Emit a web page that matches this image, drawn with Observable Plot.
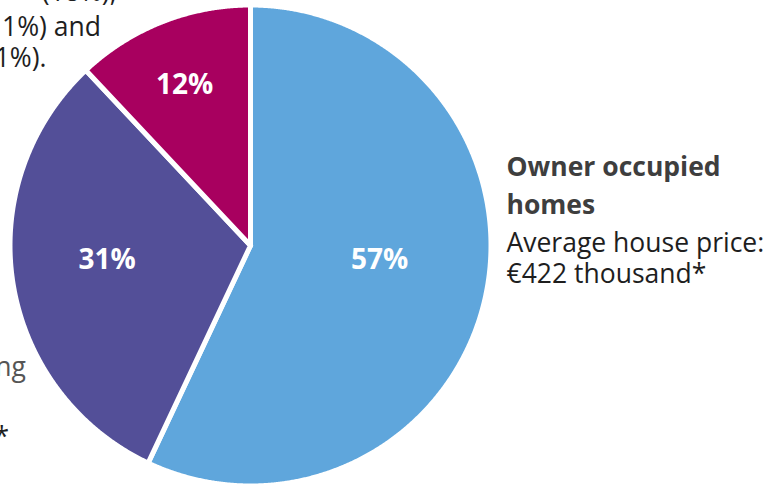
<!DOCTYPE html>
<html><head><meta charset="utf-8">
<script src="https://cdn.jsdelivr.net/npm/d3@7"></script>
<script src="https://cdn.jsdelivr.net/npm/@observablehq/plot@0.6"></script>
<style>html,body{margin:0;padding:0;background:#fff;overflow:hidden} svg{display:block}</style>
</head><body><div id="chart"></div>
<script>
// ---- data ----
const categories = ["Owner occupied homes", "Rental housing", "Other housing"];
const shares = [57, 31, 12];
const sliceColors = ["#5fa6dc", "#534f98", "#a8005f"];

// ---- layout ----
const W = 767, H = 484;
const R = 240.5;              // pie radius in px (unit radius)
const cx = 250, cy = 245;     // pie centre in px
const font = "'Open Sans', Lato, sans-serif";

// build slice polygons from the shares (clockwise from 12 o'clock)
const total = d3.sum(shares);
const poly = [];
let acc = 0;
categories.forEach((c, i) => {
  const a0 = acc / total * 2 * Math.PI;
  acc += shares[i];
  const a1 = acc / total * 2 * Math.PI;
  poly.push({category: c, x: 0, y: 0});
  const n = Math.max(2, Math.ceil((a1 - a0) / (Math.PI / 720)));
  for (let k = 0; k <= n; k++) {
    const a = a0 + (a1 - a0) * k / n;
    poly.push({category: c, x: Math.sin(a), y: Math.cos(a)});
  }
  poly.push({category: c, x: 0, y: 0});
});

// percentage label anchors (unit coords relative to centre)
const labelAnchor = [[129 / R, -14.5 / R], [-143.5 / R, -15 / R], [-66 / R, 160 / R]];
const pctLabels = categories.map((c, i) => ({
  category: c, text: shares[i] + "%", x: labelAnchor[i][0], y: labelAnchor[i][1]
}));

// annotation text (pixel offsets from the top-left of the frame)
const annotations = [
  {text: "Owner occupied", px: 506, py: 175.5, anchor: "start", weight: "bold", color: "#3e3e3e"},
  {text: "homes", px: 506, py: 213, anchor: "start", weight: "bold", color: "#3e3e3e"},
  {text: "Average house price:", px: 506, py: 251, anchor: "start", weight: "normal", color: "#1e1e1e"},
  {text: "€422 thousand*", px: 506, py: 282, anchor: "start", weight: "normal", color: "#1e1e1e"},
  {text: "(18%),", px: 116, py: 0, anchor: "end", weight: "normal", color: "#1e1e1e"},
  {text: "private rental (11%) and", px: 100.5, py: 35, anchor: "end", weight: "normal", color: "#1e1e1e"},
  {text: "other (1%).", px: 46, py: 66.5, anchor: "end", weight: "normal", color: "#1e1e1e"},
  {text: "Rental housing", px: 25.5, py: 375, anchor: "end", weight: "normal", color: "#555555"},
  {text: "€318 thousand*", px: 8.5, py: 445, anchor: "end", weight: "normal", color: "#1e1e1e"}
];

const chart = Plot.plot({
  width: W, height: H,
  margin: 0,
  style: {background: "#fff", fontFamily: font},
  x: {domain: [-cx / R, (W - cx) / R], axis: null},
  y: {domain: [-(H - cy) / R, cy / R], axis: null},
  color: {domain: categories, range: sliceColors},
  marks: [
    Plot.line(poly, {
      x: "x", y: "y", z: "category", fill: "category",
      stroke: "#fff", strokeWidth: 5, strokeLinejoin: "round", curve: "linear"
    }),
    Plot.text(pctLabels, {
      x: "x", y: "y", text: "text", fill: "#fff", fontSize: 28, fontWeight: "bold",
      fontFamily: font, textAnchor: "middle", lineAnchor: "middle"
    }),
    ...annotations.map(a => Plot.text([a], {
      frameAnchor: "top-left", dx: a.px, dy: a.py, text: "text",
      textAnchor: a.anchor, lineAnchor: "bottom", fontSize: 26.5,
      fontWeight: a.weight, fill: a.color, fontFamily: font
    }))
  ]
});
document.getElementById("chart").append(chart);
</script>
</body></html>
